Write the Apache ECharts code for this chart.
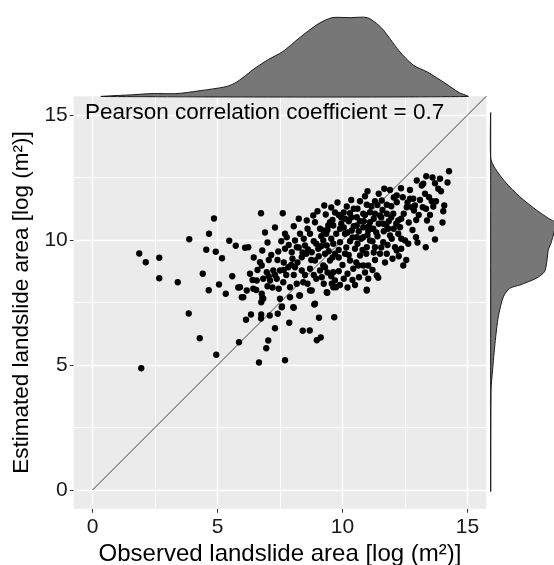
<!DOCTYPE html>
<html><head><meta charset="utf-8">
<script src="https://cdn.jsdelivr.net/npm/echarts@6/dist/echarts.min.js"></script>
<style>html,body{margin:0;padding:0;background:#fff}#c{width:554px;height:565px}</style>
</head><body><div id="c"></div>
<script>
// ---------- data ----------
const obsX = [
4.86,4.66,3.87,5.47,5.73,1.87,4.55,4.93,5.18,2.67,2.13,4.41,5.59,2.67,3.41,5.06,5.83,4.65,5.33,3.85,4.29,4.95,1.95,5.86,
6.66,7.7,6.95,7.03,7.3,7.87,8.41,8.69,8.97,9.13,9.06,9.67,6.14,6.34,6.75,6.74,7.09,7.41,10.97,8.87,8.05,7.58,9.39,9.57,9.74,8.7,8.27,5.97,6.79,6.75,
14.26,12.97,13.17,13.23,13.7,13.83,13.94,13.3,13.46,12.83,13.57,13.74,12.9,13.21,12.77,13.63,14.07,14.03,13.34,12.86,13.38,12.94,13.7,13.33,
11.67,12.34,12.17,12.41,12.17,11.57,11.3,10.7,10.97,10.17,9.27,11.77,12.7,12.57,9.33,10.3,10.1,10.57,10.83,11.1,11.3,11.5,11.77,12.03,12.23,12.3,12.23,12.5,12.63,12.1,12.17,12.43,11.77,11.63,11.23,11.03,10.83,10.57,10.37,10.1,9.9,9.63,9.5,9.23,9.23,9.37,9.63,9.9,9.7,9.5,9.3,9.17,9.63,9.7,9.63,9.37,10.1,10.3,10.43,10.63,10.7,10.83,11.03,10.66,11.03,11.37,11.43,10.97,11.1,11.3,11.5,10.97,10.83,10.57,11.1,11.63,11.83,11.9,11.97,
6.74,7.61,6.1,6.23,6.79,7.43,7.7,7.7,7.77,8.1,8.3,8.57,8.83,8.9,9.1,9.43,8.7,8.5,8.77,9.03,8.17,7.97,8.37,8.9,9.23,9.1,8.7,8.37,8.1,7.83,7.5,7.23,6.97,6.7,6.77,6.3,5.9,6.17,6.43,6.57,6.83,7.1,7.37,7.63,7.9,8.17,8.43,8.77,8.3,7.9,7.5,6.83,6.77,6.03,8.03,7.57,8.9,
8.45,8.62,8.95,9.15,9.35,9.55,9.75,9.95,10.25,10.45,10.65,10.85,11.05,11.25,11.45,11.65,11.85,12.05,11.4,11.2,10.95,10.5,10.3,10.15,9.85,9.6,9.45,9.05,8.85,8.6,8.4,8.2,8.0,7.85,7.55,7.4,7.15,7.0,6.9,7.3,8.05,8.25,9.0,9.7,10.45,10.9,11.45,11.95,12.45,12.65,12.35,12.0,11.7,11.3,11.2,10.9,10.4,10.2,10.0,9.85,9.55,9.9,10.2,9.25,8.95,8.6,8.5,8.05,7.75,7.45,7.2,7.0,6.55,6.4,6.6,6.45,7.05,7.65,12.8,12.95,13.05,13.5,12.6,12.05,11.9,13.1,12.7,11.0,10.35,9.8,9.55,11.6,11.15,10.6,9.95,10.75,11.55,12.25,13.0,12.55,13.55,14.0,14.2,13.9,13.6,13.35,
9.4,9.6,9.85,10.05,10.2,10.4,10.6,10.8,11.0,11.15,11.35,11.55,11.75,11.95,12.15,12.35,10.35,10.7,10.9,11.4,10.05,9.15,9.3,9.85,10.25,10.55,11.25,11.8,12.35,8.75,8.55,8.25,7.95,7.65,7.3,7.05,8.85,9.4,10.05,10.5
];
const estY = [
10.86,10.25,10.03,9.97,9.77,9.46,9.61,9.53,9.27,9.29,9.11,8.65,8.55,8.47,8.31,8.22,8.1,7.99,7.85,7.06,6.07,5.41,4.87,5.91,
5.1,5.19,5.67,5.98,6.47,6.69,6.37,6.38,5.99,6.1,6.89,6.91,6.81,7.02,7.02,6.86,6.98,7.05,7.98,7.42,7.29,7.34,7.89,8.25,8.11,7.98,7.78,7.71,7.69,7.51,
12.75,12.38,12.18,12.25,12.27,12.05,11.95,11.85,11.71,11.65,11.55,11.55,11.38,11.31,11.31,11.34,11.38,11.15,11.25,11.18,10.78,10.11,10.02,9.71,
12.05,12.07,11.78,11.71,11.51,11.58,11.55,11.55,11.41,11.34,11.38,11.41,11.65,11.31,11.02,11.07,10.85,10.91,11.05,11.11,11.05,10.98,11.05,11.05,10.78,10.51,10.25,9.98,9.85,9.71,9.58,8.98,9.45,9.91,10.45,10.38,10.51,10.58,10.38,10.25,10.45,10.58,10.71,10.38,9.98,9.78,9.85,9.91,9.45,9.18,8.91,8.51,8.71,8.38,8.11,7.91,9.45,9.18,8.85,8.98,9.38,8.98,8.98,8.51,8.45,8.58,8.49,8.01,9.98,9.71,9.45,9.71,10.11,10.11,10.71,10.65,10.45,10.18,10.05,
11.07,11.07,9.69,9.71,9.58,9.54,9.65,10.25,10.11,9.98,10.25,10.78,10.98,10.71,10.45,10.58,10.25,9.78,9.51,9.65,9.71,9.51,9.31,9.18,8.98,8.78,8.85,8.78,8.91,8.91,8.78,8.78,8.71,9.11,8.98,8.65,8.11,7.98,8.05,8.38,8.45,8.38,8.45,8.31,8.11,8.25,8.31,7.98,7.78,7.71,7.65,7.65,7.85,7.71,7.31,7.31,7.45,
10.05,9.62,9.85,10.15,10.25,10.05,10.25,10.65,10.75,10.55,10.35,10.75,10.55,10.85,10.65,10.35,10.75,10.45,10.15,9.95,9.45,9.65,9.95,9.7,9.6,9.3,9.55,9.35,9.95,10.45,9.5,9.1,9.25,9.8,9.95,9.2,9.4,9.9,10.3,10.5,10.55,10.85,11.15,11.1,11.25,11.75,11.85,11.35,11.05,10.7,10.05,9.25,9.1,9.2,8.8,8.7,8.4,8.65,9.0,8.75,8.55,8.2,8.1,8.25,8.45,8.25,8.6,8.6,8.6,8.05,8.1,8.15,8.0,8.4,8.8,9.3,9.2,9.1,10.4,10.8,11.0,11.0,11.5,11.7,12.0,11.6,12.0,11.95,11.6,11.5,11.3,11.2,11.35,11.25,10.9,10.05,9.7,9.35,9.9,9.2,10.45,10.7,12.3,12.45,12.5,12.55,
10.4,10.8,11.0,10.5,10.3,10.1,9.85,9.6,10.2,10.45,10.3,10.9,10.6,10.9,10.65,10.85,10.9,10.75,11.0,11.4,11.1,9.75,9.45,9.3,9.4,9.1,9.5,9.8,9.65,9.2,9.45,9.7,9.0,8.8,8.6,8.55,8.6,8.7,8.45,8.2
];
const xTicks = [0, 5, 10, 15];
const yTicks = [0, 5, 10, 15];
const minorTicks = [2.5, 7.5, 12.5];
const diagX = [0, 15.75];
const diagY = [0, 15.75];
// top marginal density (x value, relative height)
const topDensX = [0.37,1.66,2.38,3.38,4.22,5.34,5.78,6.46,7.04,7.61,8.3,9.02,9.58,10.3,11.0,11.56,12.26,12.82,13.4,14.1,14.66,15.02];
const topDensV = [0,0.023,0.037,0.037,0.07,0.125,0.185,0.35,0.47,0.57,0.75,0.92,1.0,1.0,1.0,0.87,0.58,0.40,0.31,0.17,0.05,0];
// right marginal density (y value, relative width)
const rightDensY = [0,4.0,4.8,5.87,6.93,7.73,8.07,8.2,8.47,8.73,9.2,9.61,9.93,10.67,10.87,11.2,11.73,12.33,12.87,13.27,15.05];
const rightDensV = [0,0.005,0.03,0.068,0.12,0.2,0.30,0.46,0.72,0.85,0.89,0.91,0.96,1.02,0.91,0.72,0.46,0.226,0.068,0,0];
const pearsonText = 'Pearson correlation coefficient = 0.7';
const xTitle = 'Observed landslide area [log (m²)]';
const yTitle = 'Estimated landslide area [log (m²)]';

// ---------- chart ----------
const FONT = '"Liberation Sans", Arial, sans-serif';
const AX_MIN = -0.75, AX_MAX = 15.75;
const L = 73.75, R = 554 - 486.25, T = 96.25, B = 565 - 508.75;

const chart = echarts.init(document.getElementById('c'), null, {renderer: 'canvas'});

const gridLines = [];
xTicks.forEach(v => gridLines.push({xAxis: v, lineStyle: {color: '#fff', width: 1.4, type: 'solid'}}));
yTicks.forEach(v => gridLines.push({yAxis: v, lineStyle: {color: '#fff', width: 1.4, type: 'solid'}}));
minorTicks.forEach(v => gridLines.push({xAxis: v, lineStyle: {color: '#fff', width: 0.8, type: 'solid'}}));
minorTicks.forEach(v => gridLines.push({yAxis: v, lineStyle: {color: '#fff', width: 0.8, type: 'solid'}}));

function densityPolygon(xs, ys, swap) {
  return function (params, api) {
    const pts = xs.map((x, i) => swap ? api.coord([ys[i], x]) : api.coord([x, ys[i]]));
    return {
      type: 'polygon',
      shape: {points: pts, smooth: 0.25},
      style: {fill: '#777777', stroke: '#1a1a1a', lineWidth: 1}
    };
  };
}

const option = {
  animation: false,
  backgroundColor: '#fff',
  grid: [
    {left: L, right: R, top: T, bottom: B, show: true, backgroundColor: '#EBEBEB', borderWidth: 0,
     containLabel: false, outerBoundsMode: 'none'},
    {left: L, right: R, top: 17.7, bottom: 565 - 96.5, containLabel: false, outerBoundsMode: 'none'},
    {left: 490.7, right: 0, top: T, bottom: B, containLabel: false, outerBoundsMode: 'none'}
  ],
  xAxis: [
    {gridIndex: 0, type: 'value', min: AX_MIN, max: AX_MAX,
     splitLine: {show: false}, axisLine: {show: false, onZero: false},
     axisTick: {show: true, customValues: xTicks, length: 4, lineStyle: {color: '#333', width: 1}},
     axisLabel: {customValues: xTicks, fontSize: 21, color: '#1a1a1a', margin: 8, fontFamily: FONT},
     name: xTitle, nameLocation: 'middle', nameGap: 25,
     nameTextStyle: {fontSize: 24, color: '#000', fontFamily: FONT}},
    {gridIndex: 1, type: 'value', min: AX_MIN, max: AX_MAX, show: false},
    {gridIndex: 2, type: 'value', min: 0, max: 1, show: false}
  ],
  yAxis: [
    {gridIndex: 0, type: 'value', min: AX_MIN, max: AX_MAX,
     splitLine: {show: false}, axisLine: {show: false, onZero: false},
     axisTick: {show: true, customValues: yTicks, length: 4, lineStyle: {color: '#333', width: 1}},
     axisLabel: {customValues: yTicks, fontSize: 21, color: '#1a1a1a', margin: 6, fontFamily: FONT},
     name: yTitle, nameLocation: 'middle', nameGap: 35,
     nameTextStyle: {fontSize: 22.5, color: '#000', fontFamily: FONT}},
    {gridIndex: 1, type: 'value', min: 0, max: 1, show: false},
    {gridIndex: 2, type: 'value', min: AX_MIN, max: AX_MAX, show: false}
  ],
  series: [
    {type: 'scatter', xAxisIndex: 0, yAxisIndex: 0, data: [], z: 1, silent: true,
     markLine: {z: 1, silent: true, symbol: ['none', 'none'], label: {show: false}, animation: false, data: gridLines}},
    {type: 'line', xAxisIndex: 0, yAxisIndex: 0, z: 2, symbol: 'none', silent: true,
     data: diagX.map((x, i) => [x, diagY[i]]),
     lineStyle: {color: '#444', width: 1}},
    {type: 'scatter', xAxisIndex: 0, yAxisIndex: 0, z: 3, symbolSize: 6.3,
     itemStyle: {color: '#000', opacity: 1},
     data: obsX.map((x, i) => [x, estY[i]])},
    {type: 'custom', xAxisIndex: 1, yAxisIndex: 1, data: [0], silent: true,
     renderItem: densityPolygon(topDensX, topDensV, false)},
    {type: 'custom', xAxisIndex: 2, yAxisIndex: 2, data: [0], silent: true,
     renderItem: densityPolygon(rightDensY, rightDensV, true)}
  ],
  graphic: [
    {type: 'text', left: 85, top: 101, z: 10,
     style: {text: pearsonText, font: '22.5px "Liberation Sans", Arial, sans-serif', fill: '#000'}}
  ]
};
chart.setOption(option);
</script>
</body></html>
